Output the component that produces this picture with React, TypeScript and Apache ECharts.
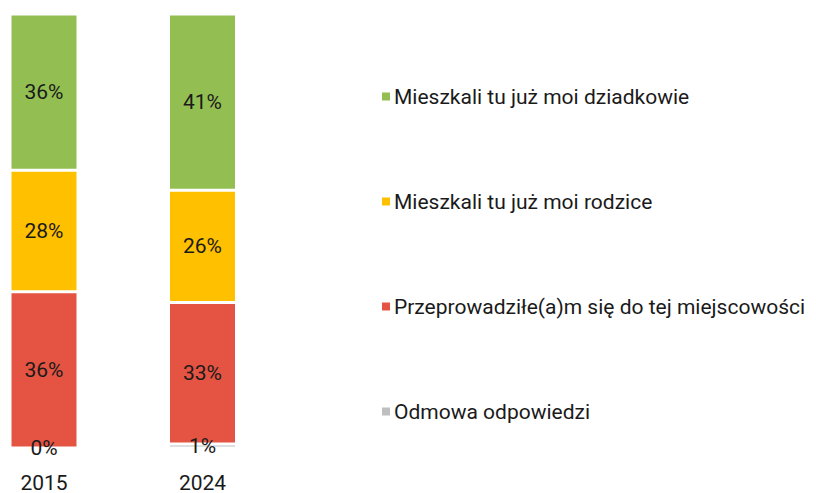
import React, { useEffect, useRef } from "react";
import * as echarts from "echarts";

const categories = ["2015", "2024"];
const seriesNames = [
  "Odmowa odpowiedzi",
  "Przeprowadziłe(a)m się do tej miejscowości",
  "Mieszkali tu już moi rodzice",
  "Mieszkali tu już moi dziadkowie",
];
const refusal = [0, 0.9];
const movedIn = [36, 32.6];
const parents = [28, 25.9];
const grandparents = [36, 40.6];
const colors = ["#bfbfbf", "#e55442", "#ffc000", "#93bf52"];
const legendOrder = [
  "Mieszkali tu już moi dziadkowie",
  "Mieszkali tu już moi rodzice",
  "Przeprowadziłe(a)m się do tej miejscowości",
  "Odmowa odpowiedzi",
];

export default function App() {
  const ref = useRef<HTMLDivElement>(null);
  useEffect(() => {
    if (!ref.current) return;
    const chart = echarts.init(ref.current, null, { renderer: "svg" });
    const dataSets = [refusal, movedIn, parents, grandparents];
    chart.setOption({
      animation: false,
      backgroundColor: "#ffffff",
      textStyle: { fontFamily: "Roboto" },
      grid: { left: 44, width: 158.5, top: 14, bottom: 45, outerBoundsMode: "none" },
      xAxis: {
        type: "category",
        data: categories,
        boundaryGap: false,
        axisLine: { show: false },
        axisTick: { show: false },
        axisLabel: { fontSize: 21, color: "#1a1a1a", margin: 24, fontFamily: "Roboto" },
      },
      yAxis: {
        type: "value",
        min: 0,
        max: 100,
        show: false,
        splitLine: { show: false },
      },
      legend: {
        orient: "vertical",
        left: 375,
        top: 81,
        itemWidth: 10,
        itemHeight: 10,
        itemGap: 84,
        icon: "rect",
        data: legendOrder,
        textStyle: { fontSize: 21, color: "#1a1a1a", fontFamily: "Roboto", padding: [0, 0, 0, -2] },
      },
      series: seriesNames.map((name, i) => ({
        name,
        type: "bar",
        stack: "total",
        barWidth: 68,
        data: dataSets[i],
        itemStyle: { color: colors[i], borderColor: "#ffffff", borderWidth: 1.5 },
        label: {
          show: true,
          position: "inside",
          fontSize: 21,
          color: "#1a1a1a",
          fontFamily: "Roboto",
          formatter: (p: any) => Math.round(p.value) + "%",
        },
      })),
    });
    return () => chart.dispose();
  }, []);
  return (
    <div
      ref={ref}
      style={{ position: "fixed", left: 0, top: 0, width: 816, height: 493 }}
    />
  );
}
